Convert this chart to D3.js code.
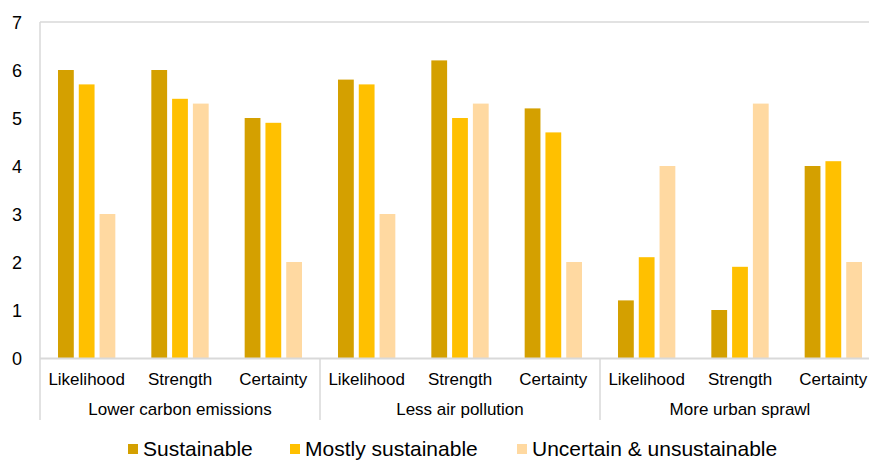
<!DOCTYPE html>
<html>
<head>
<meta charset="utf-8">
<script src="https://cdn.jsdelivr.net/npm/d3@7"></script>
<style>
  html, body { margin: 0; padding: 0; background: #fff; }
  svg { display: block; font-family: "Liberation Sans", Arial, sans-serif; }
</style>
</head>
<body>
<svg id="chart" width="869" height="460"></svg>
<script>
const groups = ["Lower carbon emissions", "Less air pollution", "More urban sprawl"];
const measures = ["Likelihood", "Strength", "Certainty"];
const seriesNames = ["Sustainable", "Mostly sustainable", "Uncertain & unsustainable"];
const sustainable = [6.0, 6.0, 5.0, 5.8, 6.2, 5.2, 1.2, 1.0, 4.0];
const mostlySustainable = [5.7, 5.4, 4.9, 5.7, 5.0, 4.7, 2.1, 1.9, 4.1];
const uncertainUnsustainable = [3.0, 5.3, 2.0, 3.0, 5.3, 2.0, 4.0, 5.3, 2.0];
const yTicks = [0, 1, 2, 3, 4, 5, 6, 7];
const colors = ["#D4A000", "#FFC000", "#FFD9A1"];

const svg = d3.select("#chart");
const mLeft = 40, mRight = 880, mTop = 22, mBottom = 358;

const categories = [];
groups.forEach(g => measures.forEach(m => categories.push(g + "|" + m)));
const seriesValues = [sustainable, mostlySustainable, uncertainUnsustainable];

const x = d3.scaleBand().domain(categories).range([mLeft, mRight]).paddingInner(0).paddingOuter(0);
const xg = d3.scaleBand().domain(groups).range([mLeft, mRight]);
const y = d3.scaleLinear().domain([0, 7]).range([mBottom, mTop]);

const inner = d3.scaleBand().domain(d3.range(3)).range([18, x.bandwidth() - 18]).paddingInner(0.24).paddingOuter(0);

const grey = "#d9d9d9";

// top border line at max
svg.append("line").attr("x1", mLeft).attr("x2", mRight).attr("y1", y(7)).attr("y2", y(7))
  .attr("stroke", grey).attr("stroke-width", 1.5);

// bars
categories.forEach((c, i) => {
  seriesValues.forEach((vals, s) => {
    svg.append("rect")
      .attr("x", x(c) + inner(s))
      .attr("y", y(vals[i]))
      .attr("width", inner.bandwidth())
      .attr("height", y(0) - y(vals[i]))
      .attr("fill", colors[s]);
  });
});

// y axis
const yAxis = svg.append("g").attr("transform", `translate(${mLeft},0)`)
  .call(d3.axisLeft(y).tickValues(yTicks).tickSize(0).tickPadding(0).tickFormat(d3.format("d")));
yAxis.select(".domain").remove();
yAxis.selectAll("text").attr("x", -18).attr("dy", "0.35em")
  .attr("font-size", 18).attr("fill", "#000").attr("font-family", "Liberation Sans, Arial, sans-serif");

// baseline
svg.append("line").attr("x1", mLeft).attr("x2", mRight).attr("y1", y(0) + 0.5).attr("y2", y(0) + 0.5)
  .attr("stroke", grey).attr("stroke-width", 2);

// vertical axis line & group separators
svg.append("line").attr("x1", mLeft).attr("x2", mLeft).attr("y1", mTop).attr("y2", 420)
  .attr("stroke", grey).attr("stroke-width", 1.5);
groups.forEach(g => {
  const xe = xg(g) + xg.bandwidth();
  svg.append("line").attr("x1", xe).attr("x2", xe).attr("y1", y(0)).attr("y2", 420)
    .attr("stroke", grey).attr("stroke-width", 1.5);
});

// category labels
const xAxis = svg.append("g").attr("transform", `translate(0,${y(0)})`)
  .call(d3.axisBottom(x).tickSize(0).tickPadding(0).tickFormat(d => d.split("|")[1]));
xAxis.select(".domain").remove();
xAxis.selectAll("text").attr("y", 27).attr("dy", 0)
  .attr("font-size", 17).attr("fill", "#000").attr("font-family", "Liberation Sans, Arial, sans-serif");

// group labels
svg.append("g").selectAll("text").data(groups).join("text")
  .attr("x", d => xg(d) + xg.bandwidth() / 2)
  .attr("y", 415)
  .attr("text-anchor", "middle")
  .attr("font-size", 17)
  .attr("fill", "#000")
  .text(d => d);

// legend
const legendX = [128, 290, 517];
const legend = svg.append("g");
seriesNames.forEach((name, i) => {
  legend.append("rect").attr("x", legendX[i]).attr("y", 444).attr("width", 10).attr("height", 10)
    .attr("fill", colors[i]);
  legend.append("text").attr("x", legendX[i] + 15).attr("y", 456)
    .attr("font-size", 21).attr("fill", "#000").text(name);
});
</script>
</body>
</html>
